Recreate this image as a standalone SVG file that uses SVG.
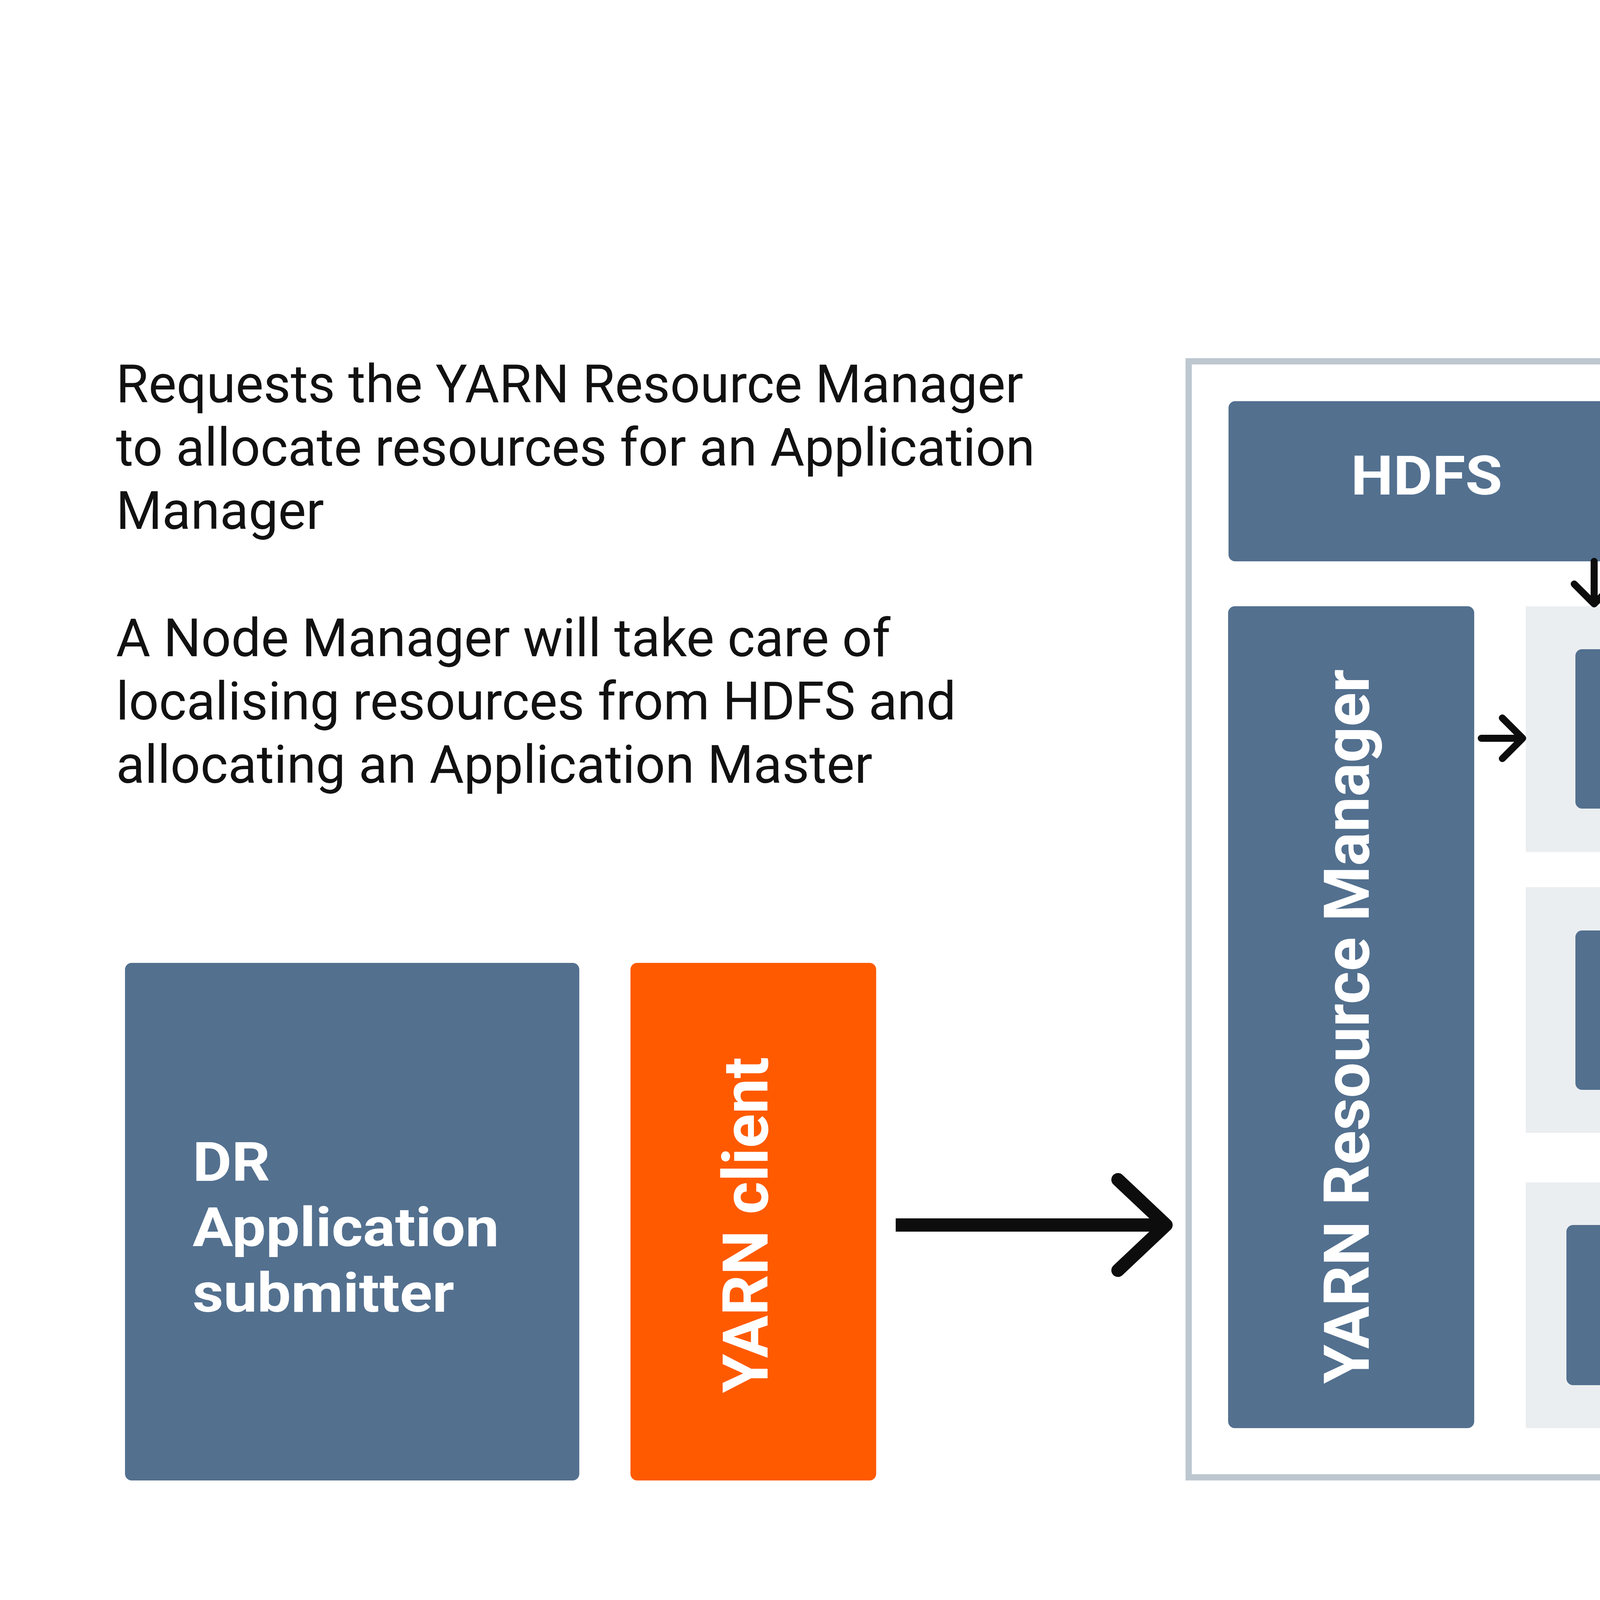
<svg xmlns="http://www.w3.org/2000/svg" width="6826" height="4274" viewBox="0 0 6826 4274">
<style>
.note{font-family:Roboto,"Liberation Sans",sans-serif;font-size:135px;fill:#111;}
.lbl{font-family:Roboto,"Liberation Sans",sans-serif;font-size:140px;font-weight:700;fill:#fff;}
.vlbl{font-family:Roboto,"Liberation Sans",sans-serif;font-size:162px;font-weight:700;fill:#fff;}
.slate{fill:#53708f;}
.orange{fill:#ff5a00;}
.band{fill:#ebeef1;}
.arr{fill:none;stroke:#0d0d0d;stroke-width:18;stroke-linecap:round;stroke-linejoin:round;}
.big{fill:none;stroke:#0d0d0d;stroke-width:34;stroke-linejoin:round;}
</style>
<rect width="6826" height="4274" fill="#fff"/>
<g id="notes">
<text class="note" x="297" y="1030">Requests the YARN Resource Manager</text>
<text class="note" x="297" y="1192">to allocate resources for an Application</text>
<text class="note" x="297" y="1354">Manager</text>
<text class="note" x="297" y="1680">A Node Manager will take care of</text>
<text class="note" x="297" y="1842">localising resources from HDFS and</text>
<text class="note" x="297" y="2004">allocating an Application Master</text>
</g>
<g id="hadoop-cluster">
<rect x="3043" y="925" width="3601" height="2857" fill="none" stroke="#bdc7d0" stroke-width="16"/>
<text class="note" x="4833" y="838" text-anchor="middle">Hadoop cluster</text>
</g>
<g id="bands">
<rect class="band" x="3906" y="1552" width="2644" height="629"/>
<rect class="band" x="3906" y="2271" width="2644" height="629"/>
<rect class="band" x="3906" y="3027" width="2644" height="629"/>
</g>
<g id="dr-submitter">
<rect class="slate" x="320" y="2465" width="1163" height="1325" rx="17"/>
<text class="lbl" transform="matrix(1.1 0 0 1 493 3023)">DR</text>
<text class="lbl" transform="matrix(1.1 0 0 1 493 3190)">Application</text>
<text class="lbl" transform="matrix(1.1 0 0 1 493 3358)">submitter</text>
</g>
<g id="yarn-client">
<rect class="orange" x="1614" y="2465" width="629" height="1325" rx="17"/>
<text class="vlbl" transform="translate(1965,3136) rotate(-90)" text-anchor="middle">YARN client</text>
</g>
<g id="hdfs">
<rect class="slate" x="3145" y="1027" width="1065" height="410" rx="17"/>
<text class="lbl" transform="matrix(1.1 0 0 1 3458 1266)">HDFS</text>
</g>
<g id="zookeeper">
<rect class="slate" x="4305" y="1027" width="1065" height="410" rx="17"/>
<text class="lbl" transform="matrix(1.1 0 0 1 4378 1204)">Zookeeper/</text>
<text class="lbl" transform="matrix(1.1 0 0 1 4378 1371)">JMS</text>
</g>
<g id="resource-manager">
<rect class="slate" x="3144" y="1552" width="630" height="2104" rx="17"/>
<text class="vlbl" transform="translate(3504,2628) rotate(-90)" text-anchor="middle">YARN Resource Manager</text>
</g>
<g id="node-manager-1">
<rect class="slate" x="4033" y="1662" width="776" height="408" rx="17"/>
<text class="lbl" x="4134" y="1829">Node</text>
<text class="lbl" x="4134" y="1998">Manager</text>
</g>
<g id="dr-app-master">
<rect class="orange" x="5037" y="1662" width="1064" height="408" rx="17"/>
<text class="lbl" x="5120" y="1829">DR Application</text>
<text class="lbl" x="5120" y="1998">Master</text>
</g>
<g id="node-manager-2">
<rect class="slate" x="4033" y="2382" width="776" height="408" rx="17"/>
<text class="lbl" x="4134" y="2549">Node</text>
<text class="lbl" x="4134" y="2718">Manager</text>
</g>
<g id="node-manager-3">
<rect class="slate" x="4010" y="3136" width="779" height="410" rx="17"/>
<text class="lbl" x="4134" y="3301">Node</text>
<text class="lbl" x="4134" y="3468">Manager</text>
</g>
<g id="connectors">
<path class="big" d="M2293 3136 H2975"/>
<path class="big" style="stroke-linecap:round" d="M2862 3020 L2985 3136 L2862 3252"/>
<path class="arr" d="M4081 1437 V1546 M4030 1495 L4081 1546 L4132 1495"/>
<path class="arr" d="M3792 1890 H3898 M3846 1838 L3898 1890 L3846 1942"/>
<path class="arr" d="M4866 1889 H4976 M4922 1835 L4976 1889 L4922 1943"/>
</g>
</svg>
